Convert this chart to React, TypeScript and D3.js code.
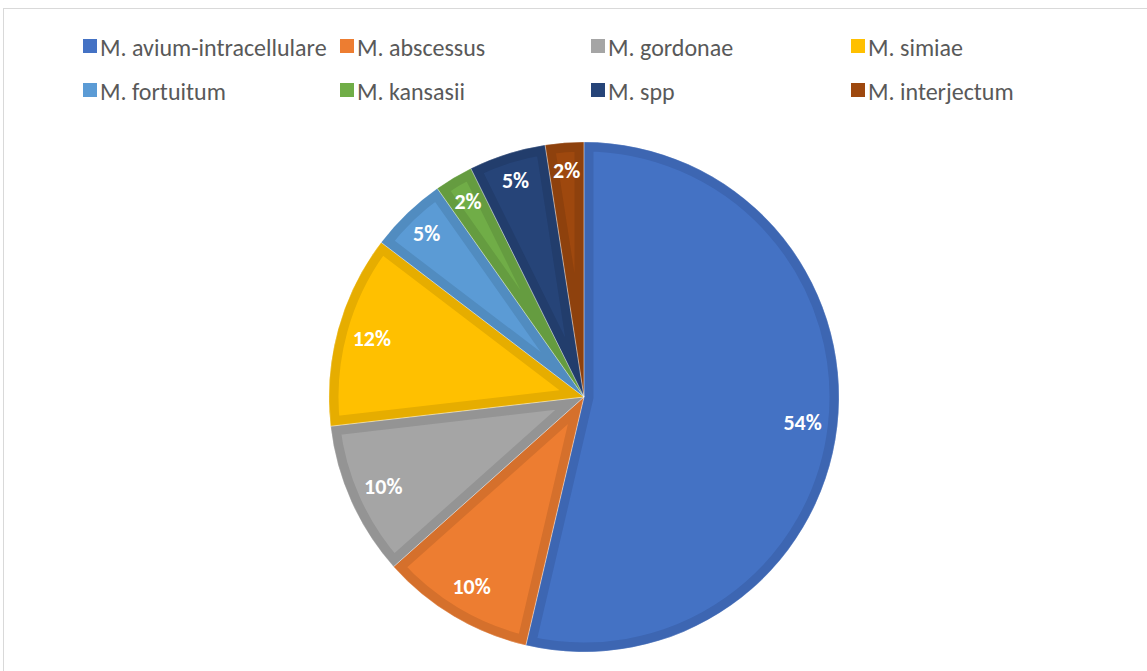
import React from "react";
import * as d3 from "d3";

const categories = [
  "M. avium-intracellulare",
  "M. abscessus",
  "M. gordonae",
  "M. simiae",
  "M. fortuitum",
  "M. kansasii",
  "M. spp",
  "M. interjectum",
];
const counts = [22, 4, 4, 5, 2, 1, 2, 1];
const fillColors = ["#4472C4", "#ED7D31", "#A5A5A5", "#FFC000", "#5B9BD5", "#70AD47", "#264478", "#9E480E"];
const edgeColors = ["#3D66B2", "#D5702C", "#949494", "#E6AD00", "#518CC0", "#659C40", "#223D6C", "#8E410D"];

const W = 1147;
const H = 671;
const cx = 584;
const cy = 397;
const R = 255;
const FONT = "Carlito, 'Open Sans', 'Liberation Sans', sans-serif";

export default function App() {
  const total = d3.sum(counts);
  const pie = d3.pie<number>().sort(null).value((d) => d);
  const arcs = pie(counts);
  const arc = d3.arc<d3.PieArcDatum<number>>().innerRadius(0).outerRadius(R);
  const labelArc = d3.arc<d3.PieArcDatum<number>>().innerRadius(220).outerRadius(220);
  const smallLabelArc = d3.arc<d3.PieArcDatum<number>>().innerRadius(227).outerRadius(227);

  const legendCols = [83, 340, 591, 851];
  const legendRows = [46, 90];

  return (
    <svg
      width={W}
      height={H}
      style={{ position: "absolute", left: 0, top: 0, background: "#fff" }}
    >
      <rect x={3.5} y={8.5} width={W + 10} height={H + 10} fill="#fff" stroke="#d9d9d9" strokeWidth={1} />
      <g transform={`translate(${cx},${cy})`}>
        <defs>
          {arcs.map((a, i) => (
            <clipPath id={`clip${i}`} key={i}>
              <path d={arc(a) || ""} />
            </clipPath>
          ))}
        </defs>
        {arcs.map((a, i) => (
          <path
            key={i}
            d={arc(a) || ""}
            fill={fillColors[i]}
            stroke={edgeColors[i]}
            strokeWidth={19}
            strokeLinejoin="miter"
            clipPath={`url(#clip${i})`}
          />
        ))}
        {arcs.map((a, i) => (
          <path
            key={"s" + i}
            d={arc(a) || ""}
            fill="none"
            stroke="#ffffff"
            strokeOpacity={0.35}
            strokeWidth={0.8}
          />
        ))}
        {arcs.map((a, i) => {
          const small = a.endAngle - a.startAngle < 0.6;
          const [x, y] = (small ? smallLabelArc : labelArc).centroid(a);
          return (
            <text
              key={"t" + i}
              x={x}
              y={y}
              textAnchor="middle"
              dominantBaseline="central"
              fill="#ffffff"
              fontFamily={FONT}
              fontWeight="bold"
              fontSize={22}
            >
              {`${Math.round((counts[i] / total) * 100)}%`}
            </text>
          );
        })}
      </g>
      <g>
        {categories.map((c, i) => {
          const col = i % 4;
          const row = Math.floor(i / 4);
          const x = legendCols[col];
          const y = legendRows[row];
          return (
            <g key={c}>
              <rect x={x} y={y - 7} width={14} height={14} fill={fillColors[i]} />
              <text
                x={x + 17}
                y={y + 1}
                dominantBaseline="central"
                fill="#595959"
                fontFamily={FONT}
                fontSize={24}
              >
                {c}
              </text>
            </g>
          );
        })}
      </g>
    </svg>
  );
}
